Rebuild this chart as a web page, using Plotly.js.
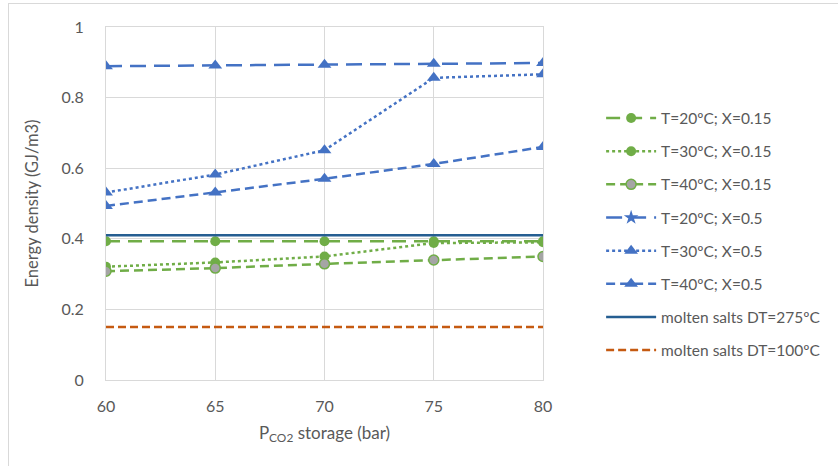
<!DOCTYPE html>
<html>
<head>
<meta charset="utf-8">
<script src="https://cdn.plot.ly/plotly-3.0.1.min.js"></script>
<style>
  html, body { margin: 0; padding: 0; background: #fff; overflow: hidden; }
  #frame { position: absolute; left: 8px; top: 3px; width: 900px; height: 500px; border: 1px solid #D9D9D9; box-sizing: border-box; }
  #chart { position: absolute; left: 0; top: 0; width: 838px; height: 466px; }
</style>
</head>
<body>
<div id="frame"></div>
<div id="chart"></div>
<script>
const pressure = [60, 65, 70, 75, 80];
const t20x015 = [0.393, 0.393, 0.393, 0.393, 0.393];
const t30x015 = [0.321, 0.333, 0.350, 0.388, 0.390];
const t40x015 = [0.308, 0.317, 0.329, 0.340, 0.350];
const t20x05 = [0.889, 0.891, 0.893, 0.896, 0.898];
const t30x05 = [0.531, 0.582, 0.651, 0.856, 0.866];
const t40x05 = [0.493, 0.531, 0.570, 0.612, 0.660];
const molten275 = [0.410, 0.410, 0.410, 0.410, 0.410];
const molten100 = [0.150, 0.150, 0.150, 0.150, 0.150];
const seriesNames = ["T=20ºC; X=0.15", "T=30ºC; X=0.15", "T=40ºC; X=0.15",
  "T=20ºC; X=0.5", "T=30ºC; X=0.5", "T=40ºC; X=0.5",
  "molten salts DT=275ºC", "molten salts DT=100ºC"];

const green = "#70AD47", blue = "#4472C4", navy = "#255E91", orange = "#C55A11";

function tr(y, i, line, marker, extra) {
  const t = {
    x: pressure, y: y, name: seriesNames[i], type: "scatter",
    mode: marker ? "lines+markers" : "lines",
    line: line, legendgroup: "g" + i, legendrank: i + 1
  };
  if (marker) t.marker = marker;
  return Object.assign(t, extra || {});
}

const data = [
  tr(t20x015, 0, {color: green, width: 2.5, dash: "14px,8px"}, {symbol: "circle", size: 10, color: green}),
  tr(t30x015, 1, {color: green, width: 2.5, dash: "dot"}, {symbol: "circle", size: 10, color: green}),
  tr(t40x015, 2, {color: green, width: 2.5, dash: "9px,5px"}, {symbol: "circle", size: 10, color: "#A5A5A5", line: {color: green, width: 1.5}}),
  tr(t20x05, 3, {color: blue, width: 2.5, dash: "16px,8px"}, {symbol: "triangle-up", size: 12, color: blue}, {showlegend: false}),
  tr([null], 3, {color: blue, width: 2.5, dash: "16px,8px"}, {symbol: "star", size: 11, color: blue}, {x: [null], hoverinfo: "skip"}),
  tr(t30x05, 4, {color: blue, width: 2.5, dash: "dot"}, {symbol: "triangle-up", size: 12, color: blue}),
  tr(t40x05, 5, {color: blue, width: 2.5, dash: "9px,5px"}, {symbol: "triangle-up", size: 12, color: blue}),
  tr(molten275, 6, {color: navy, width: 2.5}, null),
  tr(molten100, 7, {color: orange, width: 2.5, dash: "8px,4px"}, null)
];

const layout = {
  width: 838, height: 466,
  margin: {l: 106, r: 293, t: 26.5, b: 86, pad: 0},
  paper_bgcolor: "rgba(0,0,0,0)", plot_bgcolor: "#fff",
  font: {family: "Lato, 'Open Sans', sans-serif", color: "#595959", size: 15},
  showlegend: true,
  legend: {
    x: 1.133, xanchor: "left", y: 0.789, yanchor: "top",
    font: {size: 15.5, color: "#595959"}, tracegroupgap: 10,
    traceorder: "grouped", itemwidth: 50, bgcolor: "rgba(0,0,0,0)"
  },
  xaxis: {
    range: [60, 80], tickvals: [60, 65, 70, 75, 80], ticktext: ["60", "65", "70", "75", "80"],
    showgrid: true, gridcolor: "#D9D9D9", gridwidth: 1,
    showline: true, linecolor: "#D9D9D9", linewidth: 1, mirror: true,
    zeroline: false, ticks: "", ticklabelstandoff: 12,
    tickfont: {size: 16, color: "#595959"},
    title: {text: "P<sub>CO2</sub> storage (bar)", font: {size: 17, color: "#595959"}, standoff: 12}
  },
  yaxis: {
    range: [0, 1], tickvals: [0, 0.2, 0.4, 0.6, 0.8, 1], ticktext: ["0", "0.2", "0.4", "0.6", "0.8", "1"],
    showgrid: true, gridcolor: "#D9D9D9", gridwidth: 1,
    showline: true, linecolor: "#D9D9D9", linewidth: 1, mirror: true,
    zeroline: false, ticks: "", ticklabelstandoff: 18,
    tickfont: {size: 16, color: "#595959"},
    title: {text: "Energy density (GJ/m3)", font: {size: 16.5, color: "#595959"}, standoff: 18}
  }
};

Plotly.newPlot("chart", data, layout, {displayModeBar: false, staticPlot: true});
</script>
</body>
</html>
